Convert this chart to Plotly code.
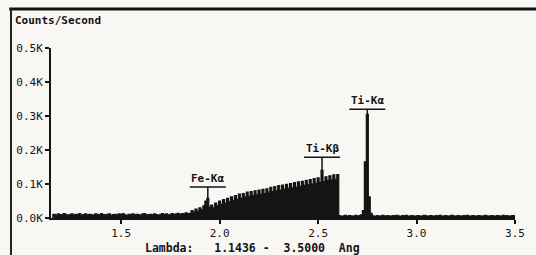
import numpy as np
import plotly.graph_objects as go

# ---------------- data ----------------
# wavelength grid segments (Angstrom), 0.01 step
seg_low_start = 1.15
seg_low_counts = [
    9, 11, 8, 12, 10, 9, 13, 11, 8, 10,
    12, 9, 11, 10, 13, 8, 10, 12, 9, 11,
    10, 8, 12, 11, 9, 13, 10, 9, 11, 12,
    8, 10, 11, 9, 12, 10, 13, 9, 8, 11,
    10, 12, 9, 11, 10, 8, 12, 13, 9, 10,
    11, 9, 12, 10, 8, 11, 13, 10, 12, 9,
    11, 13, 10, 12, 14, 11, 13, 12, 15, 13,
]
seg_cont_start = 1.85
seg_cont_counts = [
    14, 22, 17, 26, 20, 30, 24, 36, 50, 58,
    32, 38, 30, 44, 36, 50, 40, 54, 44, 58,
    48, 62, 52, 66, 55, 70, 58, 72, 62, 76,
    64, 78, 66, 80, 68, 82, 70, 84, 72, 86,
    76, 90, 78, 92, 80, 95, 82, 97, 85, 99,
    87, 101, 89, 104, 91, 106, 93, 108, 96, 111,
    98, 113, 100, 116, 102, 118, 105, 140, 107, 121,
    110, 124, 112, 127, 114, 128,
]
seg_high_start = 2.61
seg_high_counts = [
    7, 5, 6, 8, 5, 7, 6, 5, 8, 6,
    7, 9, 22, 165, 305, 62, 14, 6, 5, 7,
    5, 6, 8, 5, 7, 6, 5, 7, 6, 8,
    6, 5, 7, 6, 8, 5, 6, 7, 5, 6,
    7, 5, 6, 8, 6, 5, 7, 6, 5, 7,
    6, 8, 5, 6, 7, 5, 6, 8, 6, 5,
    7, 6, 5, 7, 6, 8, 5, 6, 7, 5,
    6, 7, 5, 6, 8, 6, 5, 7, 6, 5,
    7, 6, 5, 8, 6, 7, 5, 6, 7, 6,
]
step = 0.01

peak_names = ["Fe-Kα", "Ti-Kβ", "Ti-Kα"]
peak_lambda = [1.94, 2.52, 2.75]
label_levels = [91, 179, 320]   # counts where the label underline sits

x_tick_vals = [1.5, 2.0, 2.5, 3.0, 3.5]
x_tick_text = ["1.5", "2.0", "2.5", "3.0", "3.5"]
y_tick_vals = [0, 100, 200, 300, 400, 500]
y_tick_text = ["0.0K", "0.1K", "0.2K", "0.3K", "0.4K", "0.5K"]
x_range = [1.1436, 3.5]

# ---------------- build ----------------
def seg(start, vals):
    return [round(start + i * step, 4) for i in range(len(vals))]

lam = seg(seg_low_start, seg_low_counts) + seg(seg_cont_start, seg_cont_counts) + seg(seg_high_start, seg_high_counts)
cnt = seg_low_counts + seg_cont_counts + seg_high_counts
lam_arr = np.array(lam)
cnt_arr = np.array(cnt)

INK = "#141414"
BG = "#f9f7f3"
FONT = "DejaVu Sans Mono"

fig = go.Figure()
fig.add_trace(go.Scatter(
    x=lam, y=cnt, mode="lines", line=dict(color=INK, width=1.2, shape="hvh"),
    fill="tozeroy", fillcolor=INK, hoverinfo="skip", showlegend=False,
))

shapes = []
annotations = []
half_w = 0.0914
for name, pl, lv in zip(peak_names, peak_lambda, label_levels):
    top = float(cnt_arr[np.argmin(np.abs(lam_arr - pl))])
    shapes.append(dict(type="line", xref="x", yref="y", x0=pl - half_w, x1=pl + half_w,
                       y0=lv, y1=lv, line=dict(color=INK, width=1.5)))
    shapes.append(dict(type="line", xref="x", yref="y", x0=pl, x1=pl,
                       y0=lv, y1=top, line=dict(color=INK, width=1.5)))
    annotations.append(dict(x=pl, y=lv, xref="x", yref="y", text="<b>%s</b>" % name,
                            showarrow=False, yanchor="bottom", xanchor="center", yshift=0,
                            font=dict(family=FONT, size=11, color=INK)))

# frame of the scanned printout
shapes.append(dict(type="line", xref="paper", yref="paper", x0=-0.09, x1=1.05,
                   y0=1.23, y1=1.23, line=dict(color="#111", width=3)))
shapes.append(dict(type="line", xref="paper", yref="paper", x0=-0.0862, x1=-0.0862,
                   y0=1.23, y1=-0.25, line=dict(color="#222", width=2)))

annotations.append(dict(x=-0.082, y=1.16, xref="paper", yref="paper", text="<b>Counts/Second</b>",
                        showarrow=False, xanchor="left", yanchor="middle",
                        font=dict(family=FONT, size=11, color=INK)))
nb = "\u00a0"
lam_text = "Lambda:" + nb * 3 + "1.1436" + nb + "-" + nb * 2 + "3.5000" + nb * 2 + "Ang"
annotations.append(dict(x=0.435, y=-0.176, xref="paper", yref="paper", text="<b>%s</b>" % lam_text,
                        showarrow=False, xanchor="center", yanchor="middle",
                        font=dict(family=FONT, size=11.5, color=INK)))

fig.update_layout(
    width=536, height=255,
    margin=dict(l=51, r=21, t=48, b=37),
    paper_bgcolor=BG, plot_bgcolor=BG,
    shapes=shapes, annotations=annotations,
    xaxis=dict(range=x_range, tickvals=x_tick_vals, ticktext=x_tick_text,
               showgrid=False, zeroline=False, showline=True, linecolor=INK, linewidth=2,
               ticks="outside", ticklen=4, tickwidth=1.5, tickcolor=INK,
               tickfont=dict(family=FONT, size=11, color=INK)),
    yaxis=dict(range=[0, 500], tickvals=y_tick_vals, ticktext=y_tick_text,
               showgrid=False, zeroline=False, showline=True, linecolor=INK, linewidth=2,
               ticks="outside", ticklen=4, tickwidth=1.5, tickcolor=INK,
               tickfont=dict(family=FONT, size=11, color=INK)),
    font=dict(family=FONT),
)
fig.update_xaxes(tickprefix="<b>", ticksuffix="</b>")
fig.update_yaxes(tickprefix="<b>", ticksuffix="</b>")

fig.write_html("out.html", config={"displayModeBar": False},
               post_script="document.body.style.margin='0';document.body.style.background='%s';" % BG)
